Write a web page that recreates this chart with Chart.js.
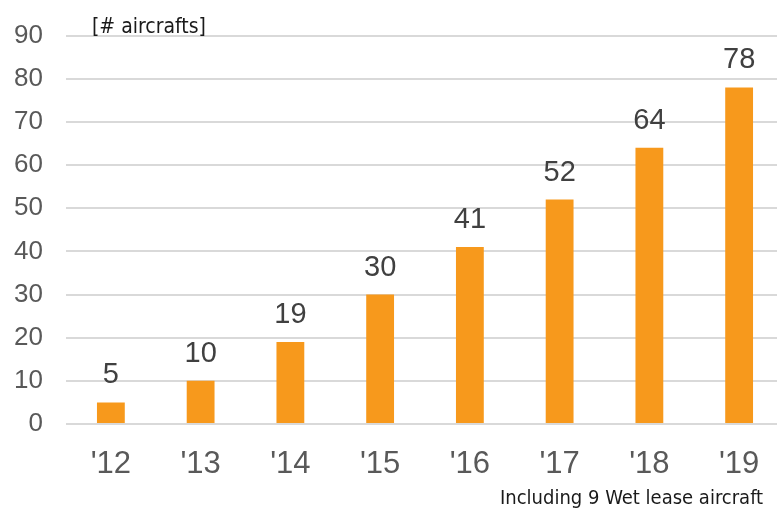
<!DOCTYPE html>
<html>
<head>
<meta charset="utf-8">
<script src="https://cdn.jsdelivr.net/npm/chart.js@4/dist/chart.umd.min.js"></script>
<style>
  html, body { margin: 0; padding: 0; background: #fff; overflow: hidden; }
  #wrap { position: relative; width: 784px; height: 512px; margin-top: -3px; }
</style>
</head>
<body>
<div id="wrap"><canvas id="grafico"></canvas></div>
<script>
const years = ["'12", "'13", "'14", "'15", "'16", "'17", "'18", "'19"];
const aircrafts = [5, 10, 19, 30, 41, 52, 64, 78];
const unitLabel = '[# aircrafts]';
const footnote = 'Including 9 Wet lease aircraft';

// valores acima das barras + textos soltos
const extras = {
    id: 'extras',
    afterDatasetsDraw(chart) {
        const c = chart.ctx;
        const meta = chart.getDatasetMeta(0);
        c.save();
        c.fillStyle = '#404040';
        c.font = '29px "Liberation Sans", Arial, sans-serif';
        c.textAlign = 'center';
        c.textBaseline = 'alphabetic';
        meta.data.forEach((bar, i) => {
            c.fillText(aircrafts[i], bar.x, bar.y - 19);
        });
        c.fillStyle = '#1a1a1a';
        c.font = '21px "DejaVu Sans Condensed", "Open Sans", sans-serif';
        c.textAlign = 'left';
        c.fillText(unitLabel, 92, 36);
        c.font = '20px "DejaVu Sans Condensed", "Open Sans", sans-serif';
        c.fillText(footnote, 500, 507);
        c.restore();
    }
};

new Chart(document.getElementById('grafico'), {
    type: 'bar',
    data: {
        labels: years,
        datasets: [{
            data: aircrafts,
            backgroundColor: '#F7991C',
            barPercentage: 0.31,
            categoryPercentage: 1
        }]
    },
    options: {
        responsive: true,
        maintainAspectRatio: false,
        animation: false,
        layout: { padding: { top: 32, right: 0, left: 0, bottom: 0 } },
        plugins: { legend: { display: false }, tooltip: { enabled: false } },
        scales: {
            x: {
                grid: { display: false, drawTicks: false },
                border: { display: false },
                ticks: {
                    color: '#595959',
                    font: { family: '"Liberation Sans", Arial, sans-serif', size: 31 },
                    padding: 22
                },
                afterFit(s) { s.height = 85; }
            },
            y: {
                min: 0,
                max: 90,
                grid: { color: '#d9d9d9', lineWidth: 2, drawTicks: false },
                border: { display: false },
                ticks: {
                    stepSize: 10,
                    color: '#595959',
                    font: { family: '"Liberation Sans", Arial, sans-serif', size: 26 },
                    padding: 23
                },
                afterFit(s) { s.width = 66; }
            }
        }
    },
    plugins: [extras]
});
</script>
</body>
</html>
